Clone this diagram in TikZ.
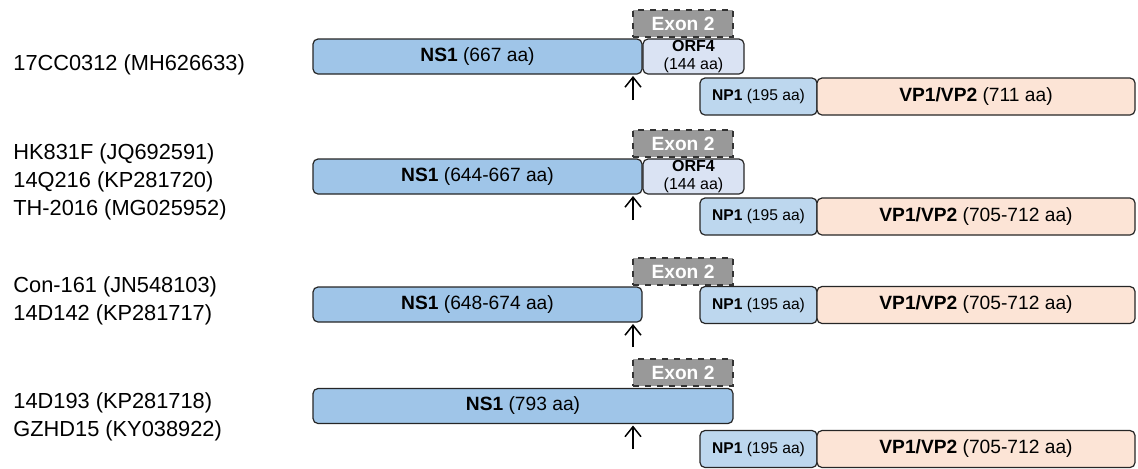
\documentclass[tikz,border=0pt]{standalone}
\usepackage{fontspec}
\setmainfont{Liberation Sans}
\usetikzlibrary{positioning,arrows.meta}

\definecolor{nsblue}{HTML}{9FC5E8}
\definecolor{npblue}{HTML}{BDD7EE}
\definecolor{orfblue}{HTML}{DAE3F3}
\definecolor{vppeach}{HTML}{FCE4D6}
\definecolor{exongray}{HTML}{999999}

\begin{document}
\begin{tikzpicture}[
  x=0.5pt, y=-0.5pt, >={Straight Barb[length=5pt,width=8pt]},
  gene/.style={draw=black!85, line width=0.6pt, rounded corners=2.5pt,
               inner sep=0pt, outer sep=0pt, align=center},
  ns/.style={gene, fill=nsblue, minimum height=17.5pt,
             font=\fontsize{9.6}{11}\selectfont},
  orf/.style={gene, fill=orfblue, minimum width=50.5pt, minimum height=17.5pt,
              font=\fontsize{8}{8.8}\selectfont},
  np/.style={gene, fill=npblue, minimum width=58.5pt, minimum height=18.5pt,
             font=\fontsize{7.8}{9}\selectfont},
  vp/.style={gene, fill=vppeach, minimum width=159pt, minimum height=18.5pt,
             font=\fontsize{9.6}{11}\selectfont},
  exon/.style={draw=black!80, dashed, line width=0.6pt, fill=exongray,
               minimum width=50pt, minimum height=13.5pt, inner sep=0pt,
               text=white, font=\bfseries\fontsize{9.6}{11}\selectfont},
  strain/.style={anchor=west, align=left, inner sep=0pt,
                 font=\fontsize{10.9}{14}\selectfont},
  site/.style={->, line width=0.75pt, shorten >=1pt},
]
\useasboundingbox (0,0) rectangle (1138,468);

% row 1
\node[strain] (lab1) at (13,65) {17CC0312 (MH626633)};
\node[ns, minimum width=164.5pt] (ns1a) at (477.5,56.5) {\textbf{NS1} (667 aa)};
\node[exon] (ex1) at (683,23.5) {Exon 2};
\node[orf] (orf1) at (693.5,56.5) {\textbf{ORF4}\\(144 aa)};
\node[np] (np1) at (758.5,96.5) {\textbf{NP1} (195 aa)};
\node[vp] (vp1) at (976,96.5) {\textbf{VP1/VP2} (711 aa)};
\coordinate (s1) at (633,100);
\draw[site] (s1) -- (s1 |- ns1a.south);

% row 2
\node[strain] (lab2) at (13,182) {HK831F (JQ692591)\\14Q216 (KP281720)\\TH-2016 (MG025952)};
\node[ns, minimum width=164.5pt] (ns1b) at (477.5,176.5) {\textbf{NS1} (644-667 aa)};
\node[exon] (ex2) at (683,143.5) {Exon 2};
\node[orf] (orf2) at (693.5,176.5) {\textbf{ORF4}\\(144 aa)};
\node[np] (np2) at (758.5,216.5) {\textbf{NP1} (195 aa)};
\node[vp] (vp2) at (976,216.5) {\textbf{VP1/VP2} (705-712 aa)};
\coordinate (s2) at (633,220);
\draw[site] (s2) -- (s2 |- ns1b.south);

% row 3
\node[strain] (lab3) at (13,300.5) {Con-161 (JN548103)\\14D142 (KP281717)};
\node[ns, minimum width=164.5pt] (ns1c) at (477.5,304.5) {\textbf{NS1} (648-674 aa)};
\node[exon] (ex3) at (683,271.5) {Exon 2};
\node[np] (np3) at (758.5,305) {\textbf{NP1} (195 aa)};
\node[vp] (vp3) at (976,305) {\textbf{VP1/VP2} (705-712 aa)};
\coordinate (s3) at (633,347);
\draw[site] (s3) -- (s3 |- ns1c.south);

% row 4
\node[strain] (lab4) at (13,416.5) {14D193 (KP281718)\\GZHD15 (KY038922)};
\node[exon] (ex4) at (683,372.5) {Exon 2};
\node[ns, minimum width=210pt] (ns1d) at (523,406) {\textbf{NS1} (793 aa)};
\node[np] (np4) at (758.5,449) {\textbf{NP1} (195 aa)};
\node[vp] (vp4) at (976,449) {\textbf{VP1/VP2} (705-712 aa)};
\coordinate (s4) at (633,449);
\draw[site] (s4) -- (s4 |- ns1d.south);
\end{tikzpicture}
\end{document}
